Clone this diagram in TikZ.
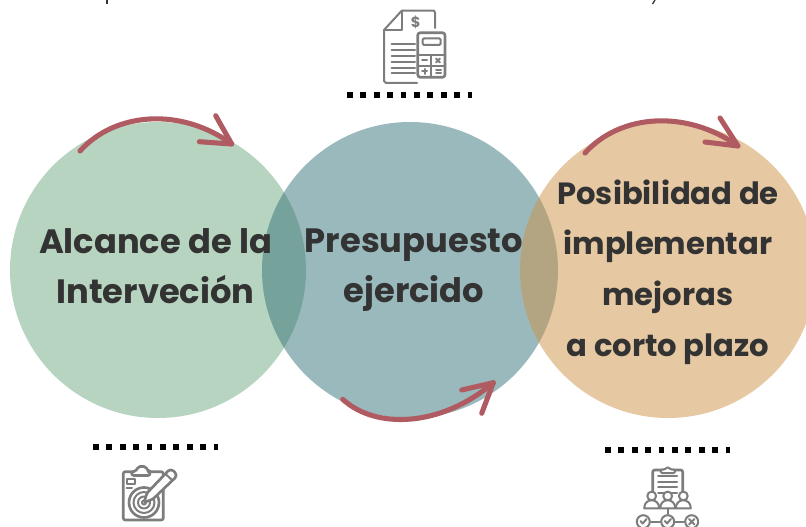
\documentclass[tikz,border=0pt]{standalone}
\usepackage{fontspec}
\usepackage{tikz}
\setmainfont{Poppins}
\definecolor{sagegreen}{RGB}{111,169,129}
\definecolor{tealblue}{RGB}{53,115,121}
\definecolor{sandorange}{RGB}{205,147,71}
\definecolor{arrowred}{RGB}{176,90,98}
\definecolor{icongray}{RGB}{125,125,125}
\definecolor{labelgray}{RGB}{51,51,51}
\tikzstyle{disc}=[circle, minimum size=222pt, inner sep=0pt, fill opacity=0.5]
\tikzstyle{label}=[text=labelgray, font=\bfseries\fontsize{25.3}{37.5}\selectfont, align=center, inner sep=0pt]
\tikzstyle{small label}=[label, font=\bfseries\fontsize{23}{38}\selectfont]
\tikzstyle{sweep}=[arrowred, line width=3.8pt, line cap=round, line join=round]
\tikzstyle{dots}=[line width=4.3pt, dash pattern=on 4.4pt off 5.65pt]
\tikzstyle{icon}=[icongray, line width=1.5pt, line join=round, line cap=round]
\tikzstyle{thick icon}=[icon, line width=2pt]
\tikzstyle{vote}=[icon, draw, circle, minimum size=9.75pt, inner sep=0pt]
% sweep arrow: start, two controls, tip, then both barbs
\newcommand{\sweeparrow}[6]{
  \coordinate (s) at #1;
  \coordinate (t) at #4;
  \draw[sweep] (s) .. controls #2 and #3 .. (t);
  \draw[sweep] #5 -- (t) -- #6;
}
\newcommand{\person}[1]{
  \draw[icon, fill=white] (#1,496) circle (4.4);
  \draw[icon, fill=white] (#1-7.5,508.3) .. controls (#1-7.5,497.5) and (#1+7.5,497.5) .. (#1+7.5,508.3) -- cycle;
}
\begin{document}
\begin{tikzpicture}[x=0.75pt,y=-0.75pt]
  \useasboundingbox (0,0) rectangle (806,527);
  \clip (0,0) rectangle (806,527);
  \node[disc, fill=sagegreen] (alcance) at (158,270) {};
  \node[disc, fill=tealblue] (presupuesto) at (410,270) {};
  \node[disc, fill=sandorange] (mejoras) at (668,270) {};
  \node[label] (alcancetxt) at (155.5,266) {Alcance de la\\Interveci\'on};
  \node[label] (presupuestotxt) at (414,270.5) {Presupuesto\\ejercido};
  \node[small label] (mejorastxt) at (668,272) {Posibilidad de\\implementar\\mejoras\\a corto plazo};
  % arrows
  \sweeparrow{(80,151)}{(115,112)}{(181,107)}{(231.7,144)}{(215.7,115.7)}{(199.3,141.7)}
  \sweeparrow{(585,153)}{(620,114)}{(686,109)}{(738,146)}{(720,118)}{(705,142)}
  \sweeparrow{(342.7,399.3)}{(375,429)}{(440,428)}{(493.3,382.7)}{(461.7,390)}{(481.7,413.3)}
  % dotted rules
  \coordinate (topa) at (347,95);
  \coordinate (topb) at (472,95);
  \coordinate (lefta) at (93,447);
  \coordinate (leftb) at (218,447);
  \coordinate (righta) at (605,450);
  \coordinate (rightb) at (730,450);
  \draw[dots] (topa) -- (topb);
  \draw[dots] (lefta) -- (leftb);
  \draw[dots] (righta) -- (rightb);
  % budget icon
  \draw[icon] (435,28) -- (435,12.5) -- (434,10.7) -- (401.7,10.7) -- (384,30) -- (384,81) -- (386,83) -- (417,83);
  \draw[icon] (401.7,10.7) -- (401.7,30) -- (384,30);
  \node[icongray, font=\bfseries\fontsize{11}{11}\selectfont, inner sep=0pt] (dollar) at (415.7,22.7) {\$};
  \foreach \y in {44.3,50,56,61.7,67.7,73.3}
    \draw[icon] (391.7,\y) -- (415,\y);
  \draw[thick icon, rounded corners=2pt] (417.7,32.7) rectangle (445,77.3);
  \draw[icon, rounded corners=1pt] (422.7,38.3) rectangle (440.7,45);
  \draw[icon] (417.7,55) -- (445,55);
  \draw[icon] (417.7,66) -- (445,66);
  \draw[icon] (431.3,55) -- (431.3,77.3);
  \draw[icon] (422,60.5) -- (427,60.5);
  \draw[icon] (436,58.5) -- (440,62.5);
  \draw[icon] (440,58.5) -- (436,62.5);
  \draw[icon] (422,71.5) -- (427,71.5);
  \draw[icon] (424.5,69) -- (424.5,74);
  \draw[icon] (436,70) -- (441,70);
  \draw[icon] (436,73) -- (441,73);
  % target icon
  \draw[thick icon, rounded corners=1.5pt] (123.3,471.7) rectangle (163.3,520);
  \draw[thick icon, fill=white, rounded corners=1.5pt] (131.7,475.5) -- (131.7,471.5) -- (136,471.5) -- (138,466.5) -- (146,466.5) -- (148,471.5) -- (150,471.5) -- (150,475.5) -- cycle;
  \draw[icon] (126.7,479.3) rectangle (135,484);
  \draw[icon] (126.7,488.3) -- (132,488.3);
  \draw[thick icon, fill=white] (144,502.5) circle (15);
  \draw[icon] (144,502.5) circle (10.5);
  \draw[icon] (144,502.5) circle (6);
  \draw[icon] (144,502.5) circle (2);
  \draw[thick icon, fill=white, rounded corners=1pt] (144,502.5) -- (147,493) -- (169,470) -- (172.5,470) -- (176,473.5) -- (176,477) -- (153,499) -- cycle;
  \draw[icon] (165.5,474) -- (172,480);
  % team icon
  \draw[thick icon, rounded corners=1.5pt] (652.7,497) -- (652.7,470) -- (682.7,470) -- (682.7,497);
  \draw[icon, fill=white, rounded corners=1pt] (660.7,473) -- (660.7,469.5) -- (665,469.5) -- (667.7,466.7) -- (670.5,469.5) -- (675,469.5) -- (675,473) -- cycle;
  \foreach \y in {476,481.7,487.3,492.7}
    \draw[icon] (658,\y) -- (677,\y);
  \person{651.7}
  \person{683.3}
  \person{667.7}
  \coordinate (teamroot) at (667.7,508.3);
  \node[vote] (voteb) at (667.7,521.7) {};
  \node[vote] (votea) at (643.3,521.7) {};
  \node[vote] (votec) at (691.7,521.7) {};
  \draw[icon] (teamroot) -- (voteb);
  \draw[icon] (votea) -- (voteb);
  \draw[icon] (voteb) -- (votec);
  \draw[icon] (640.5,521) -- (642.7,523.5) -- (646.5,519);
  \draw[icon] (664.9,521) -- (667.1,523.5) -- (670.9,519);
  \draw[icon] (689,519) -- (694.4,524.4);
  \draw[icon] (694.4,519) -- (689,524.4);
  % clipped line of text above
  \draw[labelgray, line width=1pt] (107,0) -- (107,4);
  \draw[labelgray, line width=1pt] (655,0) -- (652.5,4);
\end{tikzpicture}
\end{document}
